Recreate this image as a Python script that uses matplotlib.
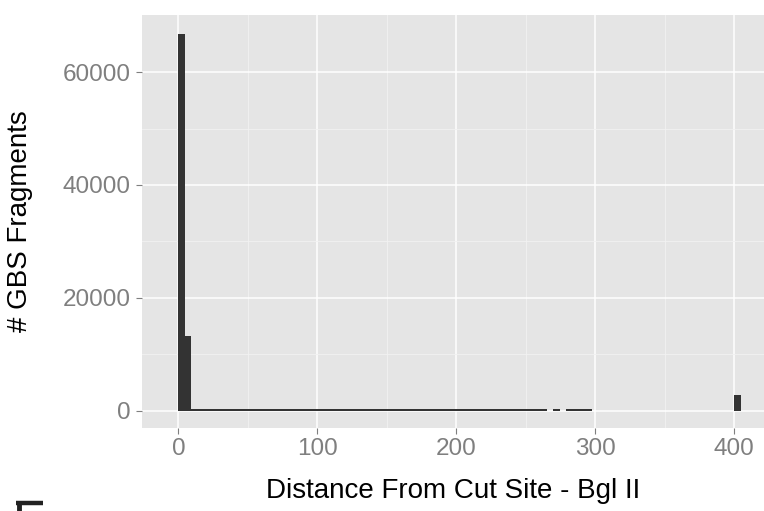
import numpy as np
import matplotlib
matplotlib.use("Agg")
import matplotlib.pyplot as plt
from matplotlib.lines import Line2D

plt.rcParams['font.family'] = ['Liberation Sans', 'DejaVu Sans']

# histogram of distance from the Bgl II cut site, bins of ~4.65 bp starting at 0
bin_start = 0.0
bin_width = 4.65
counts = [
    66800, 13150,
    300, 300, 300, 300, 300, 300, 300, 300, 300, 300,
    300, 300, 300, 300, 300, 300, 300, 300, 300, 300,
    300, 300, 300, 300, 300, 300, 300, 300, 300, 300,
    300, 300, 300, 300, 300, 300, 300, 300, 300, 300,
    300, 300, 300, 300, 300, 300, 300, 300, 300, 300,
    300, 300, 300, 300, 300,
    0, 300, 0, 300, 300, 300, 300,
    0, 0, 0, 0, 0, 0, 0, 0, 0, 0, 0,
    0, 0, 0, 0, 0, 0, 0, 0, 0, 0, 0,
    2780,
]
x_ticks = [0, 100, 200, 300, 400]
y_ticks = [0, 20000, 40000, 60000]
x_label = "Distance From Cut Site - Bgl II"
y_label = "# GBS Fragments"

edges = bin_start + bin_width * np.arange(len(counts))

fig = plt.figure(figsize=(7.64, 5.11), dpi=100)
ax = fig.add_axes([0.1863, 0.1624, 0.8137, 0.8082])

ax.set_facecolor('#E5E5E5')
ax.bar(edges, counts, width=bin_width, align='edge', color='#333333',
       linewidth=0, zorder=3)

ax.set_xlim(-25.9, 421.4)
ax.set_ylim(-3100, 70130)

ax.set_xticks(x_ticks)
ax.set_yticks(y_ticks)
ax.set_xticks([50, 150, 250, 350], minor=True)
ax.set_yticks([10000, 30000, 50000], minor=True)
ax.grid(which='major', color='white', linewidth=1.1, zorder=1)
ax.grid(which='minor', color='#F2F2F2', linewidth=0.6, zorder=1)
ax.set_axisbelow(True)

for s in ax.spines.values():
    s.set_visible(False)

ax.tick_params(which='major', length=4, width=0.8, color='#7F7F7F',
               labelcolor='#7F7F7F', labelsize=17.5)
ax.tick_params(axis='x', pad=3)
ax.tick_params(axis='y', pad=4.5)
ax.tick_params(which='minor', length=0)

ax.set_xlabel(x_label, fontsize=20, color='black', va='top')
ax.set_ylabel(y_label, fontsize=20, color='black')
ax.xaxis.set_label_coords(0.5, -0.120)
ax.yaxis.set_label_coords(-0.1757, 0.5)

# piece of the next panel visible in the bottom-left corner
fig.add_artist(Line2D([16 / 764, 43 / 764], [1 - 502.5 / 511, 1 - 502.5 / 511],
                      color='#222222', linewidth=3.2, solid_capstyle='butt'))
fig.add_artist(Line2D([18.5 / 764, 18.5 / 764], [1 - 500.7 / 511, 0],
                      color='#222222', linewidth=3.5, solid_capstyle='butt'))

fig.savefig('out.png', dpi=100)
